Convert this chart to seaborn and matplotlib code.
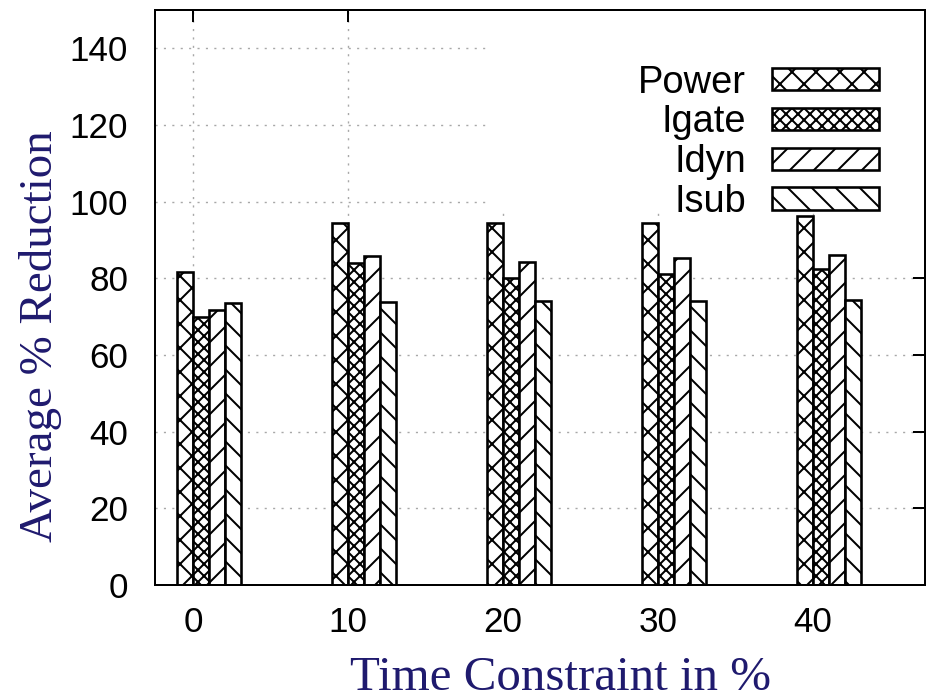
import numpy as np
import pandas as pd
import matplotlib
matplotlib.use('Agg')
import matplotlib.pyplot as plt
from matplotlib.patches import Rectangle
import seaborn as sns

# valeurs
time_constraint = [0, 10, 20, 30, 40]
series_names = ['Power', 'Igate', 'Idyn', 'Isub']
power = [81.7, 94.5, 94.5, 94.5, 96.3]
igate = [70.0, 84.0, 80.0, 81.0, 82.5]
idyn = [71.8, 85.9, 84.3, 85.4, 86.2]
isub = [73.6, 73.7, 74.2, 74.2, 74.4]
hatches = ['xx', 'xxxx', '//', '\\\\']

df = pd.DataFrame({
    'tc': time_constraint * 4,
    'value': power + igate + idyn + isub,
    'series': [s for s in series_names for _ in time_constraint],
})

sns.set_style('white')
plt.rcParams['font.family'] = ['Liberation Sans', 'DejaVu Sans']
plt.rcParams['text.color'] = 'black'
plt.rcParams['hatch.linewidth'] = 1.0
plt.rcParams['hatch.color'] = 'black'

fig = plt.figure(figsize=(935 / 144, 699 / 144), dpi=144)
ax = fig.add_axes([0.1658, 0.1631, 0.8235, 0.8226])

width = 0.413
sns.barplot(data=df, x='tc', y='value', hue='series', order=time_constraint,
            hue_order=series_names, width=width, palette=['white'] * 4,
            edgecolor='black', linewidth=1.3, saturation=1, legend=False, ax=ax)

for cont, h in zip(ax.containers, hatches):
    for bar in cont:
        bar.set_hatch(h)

# grille pointillée
ax.set_axisbelow(True)
ax.grid(True, color='#a8a8a8', linewidth=0.7, linestyle=(0, (1.5, 4.5)))
# zone blanche sous la légende (comme la clé opaque de gnuplot)
ax.add_patch(Rectangle((0.435, 0.649), 0.565, 0.351, transform=ax.transAxes,
                       facecolor='white', edgecolor='none', zorder=0.8))

ax.set_ylim(0, 150)
ax.set_xlim(-0.348, 4.62)
ax.set_yticks(np.arange(0, 141, 20))
ax.set_xticks(np.arange(len(time_constraint)) - width / 4)
ax.set_xticklabels([str(t) for t in time_constraint])

ax.tick_params(axis='both', direction='in', length=6, width=1,
               top=True, right=True, labelsize=17.5, colors='black')
ax.tick_params(axis='x', pad=10.5)
ax.tick_params(axis='y', pad=13.5)
for sp in ax.spines.values():
    sp.set_linewidth(1.0)
    sp.set_color('black')

label_color = '#1f1a6e'
ax.set_xlabel('Time Constraint in %', family='Liberation Serif', fontsize=24.5,
              color=label_color)
ax.set_ylabel('Average % Reduction', family='Liberation Serif', fontsize=23.5,
              color=label_color)
ax.xaxis.set_label_coords(0.527, -0.124)
ax.yaxis.set_label_coords(-0.121, 0.433)

leg = ax.legend(ax.containers, series_names, loc='upper right',
                bbox_to_anchor=(0.940, 0.905), frameon=False, markerfirst=False,
                fontsize=19, handlelength=2.82, handleheight=0.53,
                handletextpad=0.68, labelspacing=0.1, borderpad=0,
                borderaxespad=0)
for t in leg.get_texts():
    t.set_color('black')

fig.savefig('out.png', dpi=144)
